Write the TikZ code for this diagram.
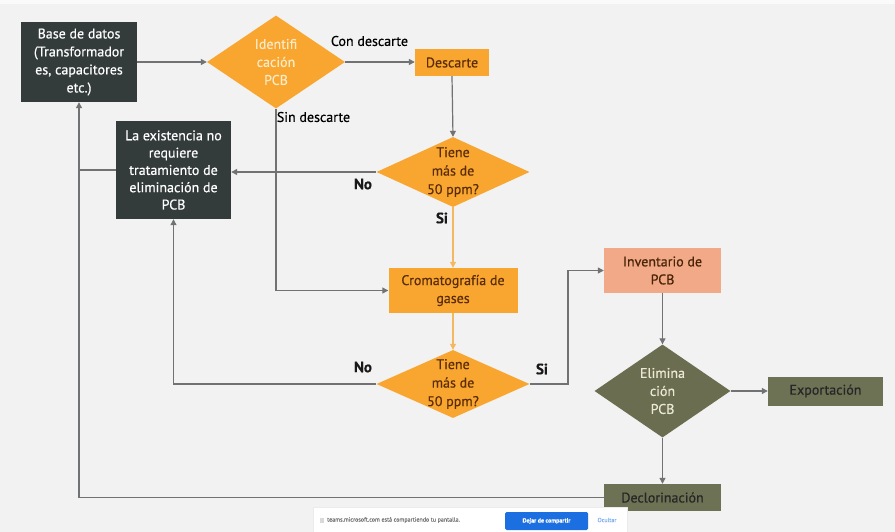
\documentclass[tikz,border=0pt]{standalone}
\usepackage{fontspec}
\setmainfont{PT Sans}[FakeBold=0.5]
\usetikzlibrary{shapes.geometric,arrows.meta}
\definecolor{bg}{HTML}{F2F2F2}
\definecolor{darkbox}{HTML}{343B3B}
\definecolor{orangef}{HTML}{F8A62F}
\definecolor{orangeline}{HTML}{F5B862}
\definecolor{browntext}{HTML}{5A2C08}
\definecolor{paletext}{HTML}{FCE9C6}
\definecolor{salmon}{HTML}{F1A987}
\definecolor{olive}{HTML}{6E7254}
\definecolor{olivedia}{HTML}{6A6D4F}
\definecolor{olivetext}{HTML}{ECE8D6}
\definecolor{linegray}{HTML}{707274}
\definecolor{btnblue}{HTML}{1B6FE0}
\begin{document}
\begin{tikzpicture}[x=1pt,y=-1pt,
  txt/.style={font=\fontsize{14}{18}\selectfont, align=center},
  darkn/.style={rectangle, fill=darkbox, text=white, inner sep=0pt, txt},
  orangen/.style={rectangle, fill=orangef, text=browntext, inner sep=0pt, txt},
  salmonn/.style={rectangle, fill=salmon, text=browntext!80!black, inner sep=0pt, txt},
  oliven/.style={rectangle, fill=olive, text=black!85, inner sep=0pt, txt},
  dia/.style={diamond, inner sep=0pt},
  gline/.style={draw=linegray, line width=1.2pt},
  arr/.style={gline, -{Triangle[length=6pt,width=6pt]}},
  oarr/.style={draw=orangeline, line width=1.2pt, -{Triangle[length=6pt,width=6pt]}},
  lbl/.style={font=\fontsize{14}{16}\selectfont, text=black},
  blbl/.style={font=\fontsize{15}{17}\selectfont\bfseries, text=black!90}
]
\useasboundingbox (0,0) rectangle (895,532);
\fill[bg] (0,0) rectangle (895,532);
\fill[white!60!bg] (0,0) rectangle (895,4);

% nodes
\node[darkn, minimum width=116, minimum height=80] (base) at (79,62)
  {Base de datos\\(Transformador\\es, capacitores\\etc.)};
\node[dia, fill=orangef, minimum width=138, minimum height=93] (ident) at (276,62) {};
\node[txt, text=paletext] (identt) at (ident.center) {Identifi\\cación\\PCB};
\node[orangen, minimum width=74, minimum height=27] (desc) at (452,62.5) {Descarte};
\node[dia, fill=orangef, minimum width=153, minimum height=70] (d1) at (453,172) {};
\node[txt, text=browntext, font=\fontsize{14}{18.5}\selectfont] (d1t) at (d1.center) {Tiene\\más de\\50 ppm?};
\node[darkn, minimum width=115, minimum height=98, font=\fontsize{14}{17.3}\selectfont] (exist) at (173.5,170)
  {La existencia no\\requiere\\tratamiento de\\eliminación de\\PCB};
\node[orangen, minimum width=129, minimum height=45] (croma) at (453,290.5)
  {Cromatografía de\\gases};
\node[dia, fill=orangef, minimum width=153, minimum height=68] (d2) at (453,384) {};
\node[txt, text=browntext, font=\fontsize{14}{18.5}\selectfont] (d2t) at (d2.center) {Tiene\\más de\\50 ppm?};
\node[salmonn, minimum width=117, minimum height=45] (inv) at (662.5,270.5)
  {Inventario de\\PCB};
\node[dia, fill=olivedia, minimum width=136, minimum height=93] (elim) at (662.5,391) {};
\node[txt, text=olivetext] (elimt) at (elim.center) {Elimina\\ción\\PCB};
\node[oliven, minimum width=115, minimum height=29] (exp) at (825.5,391) {Exportación};
\node[oliven, minimum width=117, minimum height=27] (decl) at (662.5,497.5) {Declorinación};

% labels
\node[lbl] (con) at (369.5,41) {Con descarte};
\node[lbl] (sin) at (313.5,117) {Sin descarte};
\node[blbl] (no1) at (363,184) {No};
\node[blbl] (si1) at (442,218) {Si};
\node[blbl] (no2) at (363,367) {No};
\node[blbl] (si2) at (542,369) {Si};

% connectors
\coordinate (bl) at (79,497.5);
\coordinate (sj) at (568,384);
\draw[arr] (base.east) -- (ident.west);
\draw[arr] (ident.east) -- (ident.east -| desc.west);
\draw[arr] (desc.south) -- (d1.north);
\draw[arr] (d1.west) -- (d1.west -| exist.east);
\draw[gline] (exist.west) -- (exist.west -| bl);
\draw[arr] (decl.west) -- (bl) -- (base.south);
\draw[arr] (ident.south) |- (croma.west);
\draw[oarr] (d1.south) -- (croma.north);
\draw[oarr] (croma.south) -- (d2.north);
\draw[arr] (d2.west) -| (exist.south);
\draw[arr] (d2.east) -- (sj) |- (inv.west);
\draw[arr] (inv.south) -- (elim.north);
\draw[arr] (elim.east) -- (exp.west);
\draw[arr] (elim.south) -- (decl.north);

% screen-share banner
\node[rectangle, fill=white, draw=black!8, minimum width=314, minimum height=25, inner sep=0pt] (banner) at (470,520) {};
\node[rectangle, fill=black!15, minimum width=4, minimum height=5, inner sep=0pt] (bicon) at (322,520) {};
\node[font=\fontsize{6}{7}\selectfont, text=black!55, anchor=west, inner sep=0pt] (btext) at (327,520)
  {teams.microsoft.com está compartiendo tu pantalla.};
\node[rectangle, fill=btnblue, rounded corners=1.5pt, minimum width=83, minimum height=18, inner sep=0pt,
  text=white, font=\fontsize{6}{7}\selectfont\bfseries] (bstop) at (546.5,521) {Dejar de compartir};
\node[font=\fontsize{6}{7}\selectfont, text=btnblue!55, inner sep=0pt] (bhide) at (607,520) {Ocultar};
\end{tikzpicture}
\end{document}
